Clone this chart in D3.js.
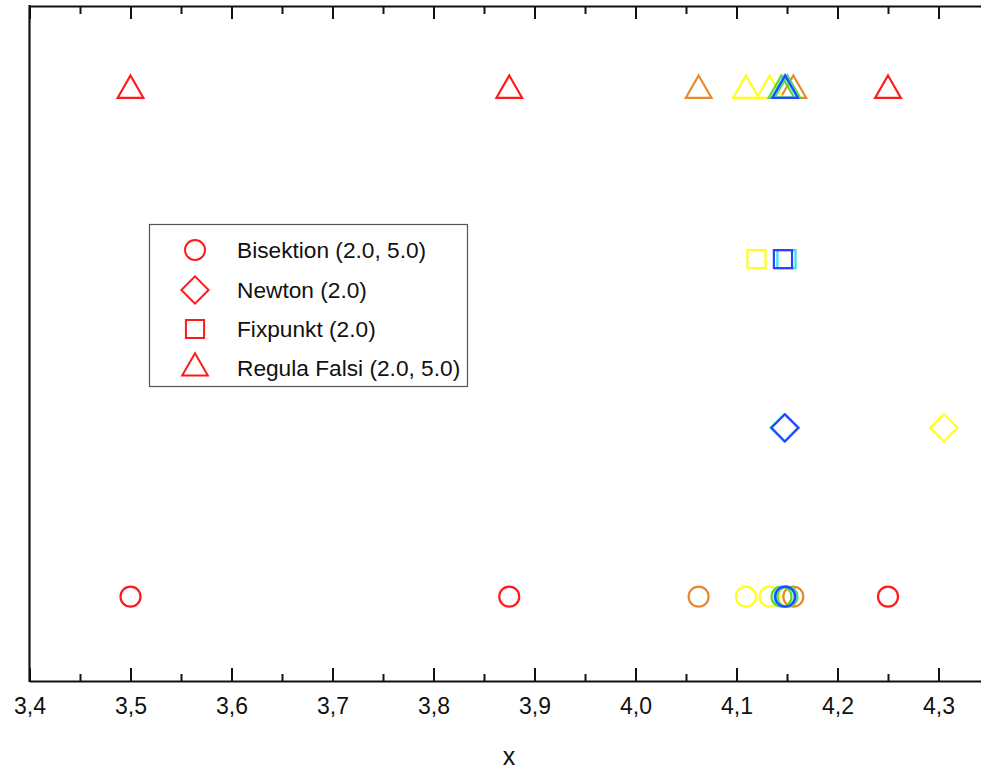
<!DOCTYPE html>
<html>
<head>
<meta charset="utf-8">
<script src="https://cdn.jsdelivr.net/npm/d3@7"></script>
<style>
  html, body { margin: 0; padding: 0; background: #fff; }
  svg { display: block; }
  text { font-family: "Liberation Sans", Arial, sans-serif; fill: #111; }
</style>
</head>
<body>
<svg id="chart" width="981" height="773"></svg>
<script>
// Iterates of four root-finding methods, one row per method.
const methods = ["Bisektion (2.0, 5.0)", "Newton (2.0)", "Fixpunkt (2.0)", "Regula Falsi (2.0, 5.0)"];
const methodRows = [1, 2, 3, 4];

// Bisection midpoints and their iteration numbers
const bisektionX = [3.5, 4.25, 3.875, 4.0625, 4.15625, 4.109375, 4.1328125, 4.14453125, 4.150390625, 4.1474609375, 4.14892578125, 4.148193359375];
const bisektionIter = [1, 2, 3, 4, 5, 6, 7, 8, 9, 10, 11, 12];

// Newton iterates (only those inside the x range)
const newtonX = [4.3054, 4.1472, 4.1480];
const newtonIter = [6, 10, 12];

// Fixed-point iterates (only those inside the x range)
const fixpunktX = [4.1198, 4.1495, 4.1460];
const fixpunktIter = [6, 10, 12];

// Regula falsi iterates
const regulaX = [3.5, 4.25, 3.875, 4.0625, 4.15625, 4.109375, 4.1328125, 4.14453125, 4.150390625, 4.1474609375, 4.14892578125, 4.148193359375];
const regulaIter = [1, 2, 3, 4, 5, 6, 7, 8, 9, 10, 11, 12];

// Colour per iteration number (1-based)
const iterColors = ["#ff1a1a", "#ff1a1a", "#ff1a1a", "#e8892c", "#e8892c", "#ffff1a", "#ffff1a",
                    "#5fd52a", "#5fd52a", "#2ee8f0", "#2ee8f0", "#2f3fff"];

const xMajorTicks = [3.4, 3.5, 3.6, 3.7, 3.8, 3.9, 4.0, 4.1, 4.2, 4.3];
const xMinorTicks = [3.45, 3.55, 3.65, 3.75, 3.85, 3.95, 4.05, 4.15, 4.25];
const xTitle = "x";

const svg = d3.select("#chart");
const plotLeft = 29.5, plotRight = 1000, plotTop = 6, plotBottom = 681;

const x = d3.scaleLinear().domain([3.4, 3.4 + (plotRight - plotLeft) / 1010]).range([plotLeft, plotRight]);
const y = d3.scaleLinear().domain([0.5, 4.5]).range([plotBottom, plotTop]);

const fmt = d => d3.format(".1f")(d).replace(".", ",");

// bottom axis: major ticks with labels, inward
const gx = svg.append("g").attr("transform", `translate(0,${plotBottom})`)
  .call(d3.axisBottom(x).tickValues(xMajorTicks).tickSize(-13).tickPadding(17).tickFormat(fmt).tickSizeOuter(0));
gx.select(".domain").attr("stroke", "#111").attr("stroke-width", 2.2);
gx.selectAll(".tick line").attr("stroke", "#111").attr("stroke-width", 2);
gx.selectAll(".tick text").style("font-size", "23px").style("font-family", "Liberation Sans, Arial, sans-serif").attr("fill", "#111");

svg.append("g").attr("transform", `translate(0,${plotBottom})`)
  .call(d3.axisBottom(x).tickValues(xMinorTicks).tickSize(-7).tickFormat("").tickSizeOuter(0))
  .call(g => g.select(".domain").remove())
  .selectAll(".tick line").attr("stroke", "#111").attr("stroke-width", 2);

// top axis: ticks only, inward
const gt = svg.append("g").attr("transform", `translate(0,${plotTop})`)
  .call(d3.axisTop(x).tickValues(xMajorTicks).tickSize(-13).tickFormat("").tickSizeOuter(0));
gt.select(".domain").attr("stroke", "#111").attr("stroke-width", 2.2);
gt.selectAll(".tick line").attr("stroke", "#111").attr("stroke-width", 2);
svg.append("g").attr("transform", `translate(0,${plotTop})`)
  .call(d3.axisTop(x).tickValues(xMinorTicks).tickSize(-8).tickFormat("").tickSizeOuter(0))
  .call(g => g.select(".domain").remove())
  .selectAll(".tick line").attr("stroke", "#111").attr("stroke-width", 2);

// left frame line
svg.append("line").attr("x1", plotLeft).attr("x2", plotLeft).attr("y1", plotTop - 1).attr("y2", plotBottom + 1)
  .attr("stroke", "#111").attr("stroke-width", 2.2);

// axis title
svg.append("text").attr("x", 509).attr("y", 765)
  .attr("text-anchor", "middle").style("font-size", "25px").text(xTitle);

// marker shapes
const shapes = {
  circle: d3.symbol().type(d3.symbolCircle).size(Math.PI * 100)(),
  diamond: d3.symbol().type(d3.symbolSquare).size(370)(),
  square: d3.symbol().type(d3.symbolSquare).size(330)(),
  triangle: d3.symbol().type(d3.symbolTriangle).size(285)()
};
const rotations = { circle: 0, diamond: 45, square: 0, triangle: 0 };

const series = [
  { xs: bisektionX, it: bisektionIter, row: methodRows[0], shape: "circle" },
  { xs: newtonX, it: newtonIter, row: methodRows[1], shape: "diamond" },
  { xs: fixpunktX, it: fixpunktIter, row: methodRows[2], shape: "square" },
  { xs: regulaX, it: regulaIter, row: methodRows[3], shape: "triangle" }
];

const plot = svg.append("g");
series.forEach(s => {
  const pts = s.xs.map((v, i) => ({ v, it: s.it[i] })).sort((a, b) => a.it - b.it);
  plot.selectAll(null).data(pts).enter().append("path")
    .attr("d", shapes[s.shape])
    .attr("transform", d => `translate(${x(d.v)},${y(s.row)}) rotate(${rotations[s.shape]})`)
    .attr("fill", "none")
    .attr("stroke", d => iterColors[d.it - 1])
    .attr("stroke-width", 2.2);
});

// legend
const lg = svg.append("g");
lg.append("rect").attr("x", 149.5).attr("y", 224.5).attr("width", 318).attr("height", 162)
  .attr("fill", "#fff").attr("stroke", "#555").attr("stroke-width", 1.2);
const legendY = [250, 290, 329, 368];
const legendShapes = ["circle", "diamond", "square", "triangle"];
methods.forEach((m, i) => {
  lg.append("path").attr("d", shapes[legendShapes[i]])
    .attr("transform", `translate(195,${legendY[i]}) rotate(${rotations[legendShapes[i]]})`)
    .attr("fill", "none").attr("stroke", "#ff1a1a").attr("stroke-width", 2);
  lg.append("text").attr("x", 237).attr("y", legendY[i] + 8)
    .style("font-size", "22.7px").text(m);
});
</script>
</body>
</html>
